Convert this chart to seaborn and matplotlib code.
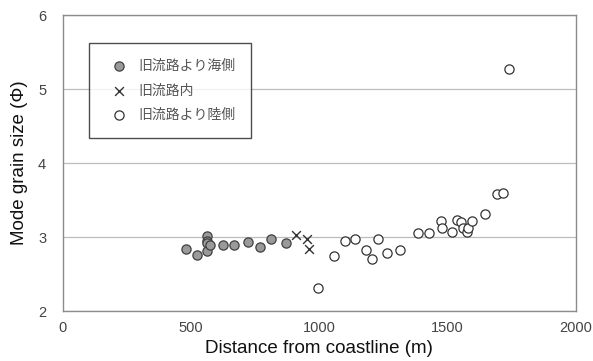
import matplotlib
matplotlib.use("Agg")
import matplotlib.pyplot as plt
import seaborn as sns
import pandas as pd

# values
sea_dist = [480, 522, 562, 562, 562, 562, 575, 623, 667, 721, 768, 812, 869]
sea_size = [2.84, 2.76, 3.01, 2.95, 2.92, 2.81, 2.89, 2.89, 2.90, 2.94, 2.87, 2.97, 2.92]

inner_dist = [908, 951, 961]
inner_size = [3.03, 2.97, 2.84]

land_dist = [996, 1058, 1101, 1140, 1181, 1206, 1227, 1265, 1313, 1386, 1426,
             1473, 1479, 1516, 1535, 1552, 1561, 1574, 1578, 1596, 1645, 1691,
             1718, 1740]
land_size = [2.31, 2.75, 2.95, 2.98, 2.83, 2.71, 2.98, 2.78, 2.83, 3.05, 3.06,
             3.22, 3.12, 3.07, 3.23, 3.21, 3.12, 3.07, 3.13, 3.22, 3.31, 3.58,
             3.60, 5.27]

labels = ["旧流路より海側", "旧流路内", "旧流路より陸側"]
x_ticks = [0, 500, 1000, 1500, 2000]
y_ticks = [2, 3, 4, 5, 6]

sns.set_style("white")
plt.rcParams["font.family"] = ["Liberation Sans", "Noto Sans CJK JP"]

fig = plt.figure(figsize=(5.93, 3.61), dpi=100)
ax = fig.add_axes([0.106, 0.138, 0.865, 0.820])

sea = pd.DataFrame({"dist": sea_dist, "size": sea_size})
inner = pd.DataFrame({"dist": inner_dist, "size": inner_size})
land = pd.DataFrame({"dist": land_dist, "size": land_size})

sns.scatterplot(data=sea, x="dist", y="size", ax=ax, marker="o", s=44,
                color="#9a9a9a", edgecolor="#404040", linewidth=0.9,
                label=labels[0], zorder=3)
sns.scatterplot(data=inner, x="dist", y="size", ax=ax, marker="x", s=40,
                color="#333333", linewidth=1.0, label=labels[1], zorder=3)
sns.scatterplot(data=land, x="dist", y="size", ax=ax, marker="o", s=44,
                color="white", edgecolor="#333333", linewidth=0.9,
                label=labels[2], zorder=3)

ax.set_xlim(0, 2000)
ax.set_ylim(2, 6)
ax.set_xticks(x_ticks)
ax.set_yticks(y_ticks)
ax.yaxis.grid(True, color="#bdbdbd", linewidth=0.9)
ax.set_axisbelow(True)
for sp in ax.spines.values():
    sp.set_color("#8c8c8c")
    sp.set_linewidth(1.0)
ax.tick_params(axis="x", direction="in", length=6, color="#555555",
               labelsize=10.5, labelcolor="#444444", pad=7)
ax.tick_params(axis="y", length=0, labelsize=10.5, labelcolor="#444444", pad=12)

ax.set_xlabel("Distance from coastline (m)", fontsize=13.5, color="#111111",
              labelpad=4)
ax.set_ylabel("Mode grain size (Φ)", fontsize=13.5, color="#111111",
              labelpad=7)

leg = ax.legend(loc="upper left", bbox_to_anchor=(0.051, 0.906), frameon=True,
                fancybox=False, edgecolor="#222222",
                prop={"family": ["Noto Sans CJK JP"], "size": 10},
                borderpad=1.15, labelspacing=0.75, handletextpad=0.4,
                borderaxespad=0)
leg.get_frame().set_linewidth(1.0)
for t in leg.get_texts():
    t.set_color("#555555")

fig.savefig("out.png", dpi=100)
